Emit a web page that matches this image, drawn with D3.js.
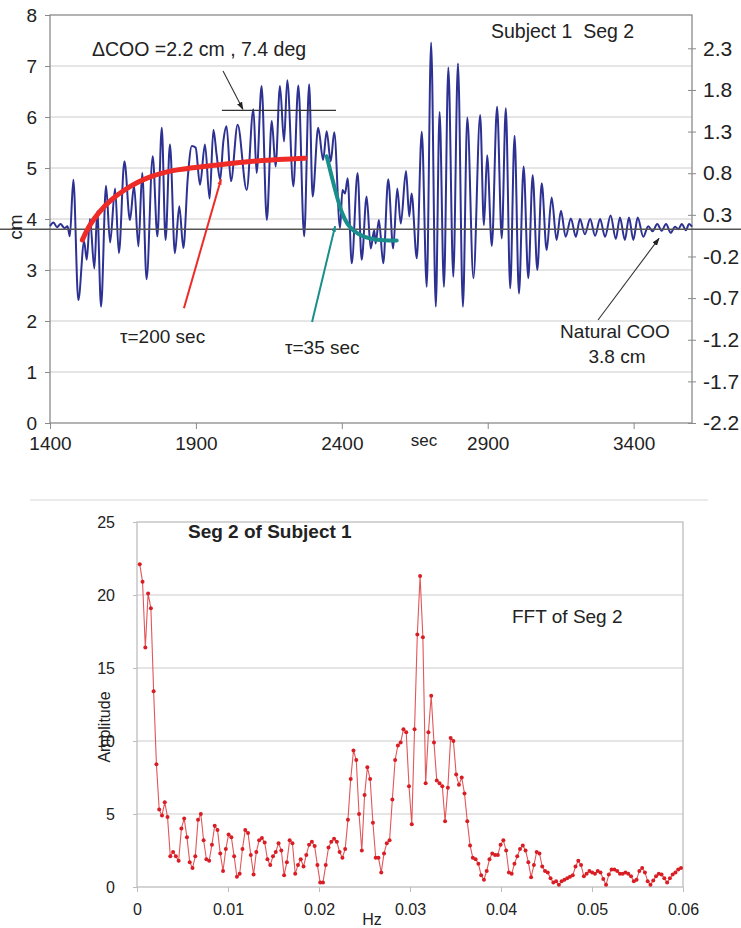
<!DOCTYPE html>
<html><head><meta charset="utf-8">
<script src="https://cdn.jsdelivr.net/npm/d3@7"></script>
<style>body{margin:0;background:#fff}svg{display:block}text{font-family:"Liberation Sans",Arial,sans-serif;fill:#222}</style>
</head><body><svg id="c" width="741" height="928"></svg>
<script>
// ---------- top chart data ----------
const cooTimeSec = [1400,1412,1424,1436,1450,1460,1468,1480,1497,1517,1526,1537,1552,1562,1575,1592,1606,1623,1636,1655,1674,1688,1703,1716,1731,1752,1768,1783,1796,1811,1828,1843,1857,1872,1886,1899,1914,1931,1947,1960,1971,1983,1994,2005,2020,2043,2074,2097,2108,2125,2143,2160,2173,2188,2202,2213,2234,2251,2271,2288,2300,2319,2336,2348,2362,2374,2394,2402,2411,2420,2434,2454,2468,2485,2499,2511,2516,2527,2542,2559,2576,2590,2602,2620,2631,2639,2657,2674,2691,2706,2722,2735,2750,2765,2782,2798,2815,2830,2851,2874,2887,2898,2914,2932,2948,2962,2977,2992,3007,3023,3039,3054,3070,3085,3102,3119,3136,3151,3167,3185,3202,3216,3233,3251,3268,3285,3302,3321,3339,3353,3370,3384,3399,3414,3433,3450,3465,3481,3496,3511,3527,3542,3553,3565,3579,3590,3600];
const cooCm      = [3.86,3.93,3.84,3.9,3.82,3.86,3.66,4.77,2.41,3.56,3.2,4.0,3.03,4.15,2.28,4.65,3.54,4.6,3.33,5.13,3.98,4.65,3.46,4.9,2.82,5.23,3.66,5.79,3.59,5.46,3.33,4.25,3.43,4.8,5.43,5.4,4.67,5.46,4.4,5.75,5.26,4.77,5.52,5.82,4.74,5.85,4.57,6.15,4.9,6.61,3.98,5.92,5.03,6.61,5.52,6.72,4.64,6.62,3.66,6.64,4.44,5.79,5.16,5.72,5.13,5.7,3.82,4.57,4.5,4.8,3.13,4.9,3.2,4.44,3.42,3.78,3.52,3.98,3.13,4.78,3.42,4.6,3.91,4.94,4.05,4.5,3.23,5.71,2.67,7.46,2.28,6.1,2.67,6.97,2.87,7.05,2.28,5.99,2.84,6.04,3.88,5.25,3.47,6.2,3.62,6.17,2.64,5.63,2.54,5.03,2.84,4.86,3.0,4.7,3.39,4.42,3.59,4.16,3.65,4.01,3.65,4.0,3.7,4.0,3.67,4.0,3.65,4.07,3.61,4.03,3.59,4.03,3.59,4.03,3.65,3.86,3.76,3.9,3.77,3.9,3.73,3.85,3.8,3.9,3.78,3.9,3.85];
const riseFitSec = [1511,1531,1566,1611,1657,1703,1748,1794,1840,1897,1960,2045,2160,2274];
const riseFitCm  = [3.59,3.84,4.13,4.39,4.58,4.73,4.84,4.92,4.97,5.01,5.05,5.11,5.16,5.19];
const decayFitSec = [2348,2365,2383,2400,2422,2457,2502,2545,2588];
const decayFitCm  = [5.23,4.84,4.44,4.11,3.85,3.69,3.6,3.58,3.58];
const naturalCooCm = 3.8;
const xTicksTop = [1400,1900,2400,2900,3400];
const yTicksLeft = [0,1,2,3,4,5,6,7,8];
const yTicksRight = [-2.2,-1.7,-1.2,-0.7,-0.2,0.3,0.8,1.3,1.8,2.3];

// ---------- bottom chart data ----------
const fftFreqMilliHz = [0.305,0.61,0.915,1.22,1.525,1.83,2.135,2.44,2.745,3.05,3.355,3.66,3.965,4.27,4.575,4.88,5.185,5.49,5.795,6.1,6.405,6.71,7.015,7.32,7.625,7.93,8.235,8.54,8.845,9.15,9.455,9.76,10.065,10.37,10.675,10.98,11.285,11.59,11.895,12.2,12.505,12.81,13.115,13.42,13.725,14.03,14.335,14.64,14.945,15.25,15.555,15.86,16.165,16.47,16.775,17.08,17.385,17.69,17.995,18.3,18.605,18.91,19.215,19.52,19.825,20.13,20.435,20.74,21.045,21.35,21.655,21.96,22.265,22.57,22.875,23.18,23.485,23.79,24.095,24.4,24.705,25.01,25.315,25.62,25.925,26.23,26.535,26.84,27.145,27.45,27.755,28.06,28.365,28.67,28.975,29.28,29.585,29.89,30.195,30.5,30.805,31.11,31.415,31.72,32.025,32.33,32.635,32.94,33.245,33.55,33.855,34.16,34.465,34.77,35.075,35.38,35.685,35.99,36.295,36.6,36.905,37.21,37.515,37.82,38.125,38.43,38.735,39.04,39.345,39.65,39.955,40.26,40.565,40.87,41.175,41.48,41.785,42.09,42.395,42.7,43.005,43.31,43.615,43.92,44.225,44.53,44.835,45.14,45.445,45.75,46.055,46.36,46.665,46.97,47.275,47.58,47.885,48.19,48.495,48.8,49.105,49.41,49.715,50.02,50.325,50.63,50.935,51.24,51.545,51.85,52.155,52.46,52.765,53.07,53.375,53.68,53.985,54.29,54.595,54.9,55.205,55.51,55.815,56.12,56.425,56.73,57.035,57.34,57.645,57.95,58.255,58.56,58.865,59.17,59.475,59.78];
const fftAmplitude = [22.1,20.9,16.4,20.1,19.1,13.4,8.4,5.3,4.9,5.8,4.8,2.1,2.4,2.1,1.8,4.0,4.7,3.4,1.7,1.3,2.1,4.6,5.0,3.2,1.9,1.8,2.9,4.2,3.9,2.3,1.1,2.6,3.6,3.4,2.1,0.7,0.9,2.6,3.9,3.7,2.2,0.85,2.4,3.2,3.35,3.05,1.9,1.5,2.1,2.4,3.0,2.5,0.8,1.7,3.2,3.0,0.9,1.5,1.9,1.4,2.2,2.9,3.1,2.8,1.5,0.3,0.3,1.5,2.7,3.1,3.3,3.1,2.4,2.0,2.6,4.6,7.4,9.35,8.7,5.0,2.5,6.3,8.2,7.4,4.4,2.0,2.0,1.0,2.3,3.0,3.2,6.0,8.7,9.7,9.9,10.8,10.6,6.9,4.3,10.8,17.3,21.3,17.1,7.1,10.6,13.1,9.9,7.3,7.1,6.9,4.5,6.8,10.2,10.0,7.7,7.0,7.5,6.4,4.5,2.85,2.0,1.9,1.6,0.8,0.5,1.1,1.9,2.3,2.2,2.2,2.9,3.2,2.5,1.0,0.9,1.6,2.1,2.6,2.85,2.5,1.7,0.66,1.5,2.4,2.3,1.4,1.1,1.0,0.6,0.3,0.4,0.15,0.4,0.5,0.6,0.7,0.8,1.4,1.8,1.5,0.73,0.9,1.1,1.0,0.9,1.1,1.0,0.55,0.15,0.85,1.2,1.2,1.1,0.9,0.9,1.0,0.9,0.73,0.4,0.5,1.1,1.3,1.0,0.4,0.15,0.45,0.73,0.9,0.85,0.6,0.3,0.6,0.85,1.0,1.2,1.3];
const xTicksBottom = [0,0.01,0.02,0.03,0.04,0.05,0.06];
const xTickLabelsBottom = ["0","0.01","0.02","0.03","0.04","0.05","0.06"];
const yTicksBottom = [0,5,10,15,20,25];

const svg = d3.select("#c");
const FONT = '"Liberation Sans",Arial,sans-serif';

// ================= TOP CHART =================
const x1 = d3.scaleLinear().domain([1400,3600]).range([50,692]);
const y1 = d3.scaleLinear().domain([0,8]).range([423,15]);
const y1r = d3.scaleLinear().domain([-2.2,2.7]).range([423,15]);
const gTop = svg.append("g");

gTop.selectAll("line.grid").data(yTicksLeft.filter(d=>d>0&&d<8)).join("line")
  .attr("x1",x1(1400)).attr("x2",x1(3600)).attr("y1",d=>y1(d)).attr("y2",d=>y1(d))
  .attr("stroke","#cccccc").attr("stroke-width",1);

gTop.append("rect").attr("x",x1(1400)).attr("y",y1(8)).attr("width",x1(3600)-x1(1400)).attr("height",y1(0)-y1(8))
  .attr("fill","none").attr("stroke","#8a8a8a").attr("stroke-width",1.3);

const axL = gTop.append("g").attr("transform",`translate(${x1(1400)},0)`)
  .call(d3.axisLeft(y1).tickValues(yTicksLeft).tickSize(5).tickPadding(8));
const axB = gTop.append("g").attr("transform",`translate(0,${y1(0)})`)
  .call(d3.axisBottom(x1).tickValues(xTicksTop).tickSize(6).tickFormat(d3.format("d")).tickPadding(8));
const axR = gTop.append("g").attr("transform",`translate(${x1(3600)},0)`)
  .call(d3.axisRight(y1r).tickValues(yTicksRight).tickSize(4).tickPadding(7).tickFormat(d=>d.toFixed(1)));
[axL,axB,axR].forEach(a=>{a.select(".domain").remove();
  a.selectAll("line").attr("stroke","#8a8a8a");
  a.selectAll("text").attr("font-size",19).attr("font-family",FONT).attr("fill","#222");});
axR.selectAll("text").attr("font-size",21);
axR.selectAll(".tick line").attr("x1",-4);

const lineTop = d3.line().x(d=>x1(d[0])).y(d=>y1(d[1])).curve(d3.curveMonotoneX);
gTop.append("path").datum(d3.zip(cooTimeSec,cooCm)).attr("d",lineTop)
  .attr("fill","none").attr("stroke","#2d3192").attr("stroke-width",2);

gTop.append("line").attr("x1",0).attr("x2",741).attr("y1",y1(naturalCooCm)).attr("y2",y1(naturalCooCm))
  .attr("stroke","#555").attr("stroke-width",1.5);

const fitLine = d3.line().x(d=>x1(d[0])).y(d=>y1(d[1])).curve(d3.curveBasis);
gTop.append("path").datum(d3.zip(riseFitSec,riseFitCm)).attr("d",fitLine)
  .attr("fill","none").attr("stroke","#ee2b26").attr("stroke-width",5).attr("stroke-linecap","round");
gTop.append("path").datum(d3.zip(decayFitSec,decayFitCm)).attr("d",fitLine)
  .attr("fill","none").attr("stroke","#1a8e8a").attr("stroke-width",4).attr("stroke-linecap","round");

const defs = svg.append("defs");
function mk(id,color,s){defs.append("marker").attr("id",id).attr("viewBox","0 0 10 10").attr("refX",9).attr("refY",5)
  .attr("markerUnits","userSpaceOnUse").attr("markerWidth",s).attr("markerHeight",s).attr("orient","auto")
  .append("path").attr("d","M0,1.5 L10,5 L0,8.5 z").attr("fill",color);}
mk("ak","#222",8); mk("ar","#ee2b26",6); mk("at","#1a8e8a",6);

function seg(g,t0,v0,t1,v1,color,w,marker){
  return g.append("line").attr("x1",x1(t0)).attr("y1",y1(v0)).attr("x2",x1(t1)).attr("y2",y1(v1))
    .attr("stroke",color).attr("stroke-width",w).attr("marker-end",marker?`url(#${marker})`:null);}
seg(gTop,1989,6.13,2380,6.13,"#333",1.3);
seg(gTop,1993,6.9,2061,6.15,"#333",1.1,"ak");
seg(gTop,1859,2.25,1986,4.78,"#ee2b26",2,"ar");
seg(gTop,2298,1.98,2377,3.86,"#1a8e8a",2,"at");
seg(gTop,3278,2.02,3487,3.62,"#333",1.1,"ak");

function txt(x,y,s,size,opts={}){const t=svg.append("text").attr("x",x).attr("y",y).text(s)
  .attr("font-size",size).attr("font-family",FONT).attr("fill","#222").style("white-space","pre");
  if(opts.anchor)t.attr("text-anchor",opts.anchor); if(opts.bold)t.attr("font-weight","bold");
  if(opts.rot)t.attr("transform",`rotate(-90,${x},${y})`); return t;}
txt(92,56,"\u0394COO =2.2 cm , 7.4 deg",19.5);
txt(491,38,"Subject 1\u00a0 Seg 2",19.5);
txt(120,343,"\u03c4=200 sec",19);
txt(285,354,"\u03c4=35 sec",19);
txt(615,338,"Natural COO",19,{anchor:"middle"});
txt(617,363,"3.8 cm",19,{anchor:"middle"});
txt(22,227,"cm",19,{anchor:"middle",rot:true});
txt(424,446,"sec",17,{anchor:"middle"});

svg.append("line").attr("x1",30).attr("x2",708).attr("y1",500).attr("y2",500).attr("stroke","#e4e4e4").attr("stroke-width",1.5);

// ================= BOTTOM CHART =================
const x2 = d3.scaleLinear().domain([0,0.06]).range([137,683]);
const y2 = d3.scaleLinear().domain([0,25]).range([887,522]);
const gBot = svg.append("g");
gBot.selectAll("line.grid").data(yTicksBottom.filter(d=>d>0&&d<25)).join("line")
  .attr("x1",x2(0)).attr("x2",x2(0.06)).attr("y1",d=>y2(d)).attr("y2",d=>y2(d))
  .attr("stroke","#dcdcdc").attr("stroke-width",1.3);
gBot.append("rect").attr("x",x2(0)).attr("y",y2(25)).attr("width",x2(0.06)-x2(0)).attr("height",y2(0)-y2(25))
  .attr("fill","none").attr("stroke","#bdbdbd").attr("stroke-width",1.3);
const bL = gBot.append("g").attr("transform",`translate(${x2(0)},0)`)
  .call(d3.axisLeft(y2).tickValues(yTicksBottom).tickSize(4).tickPadding(18));
const bB = gBot.append("g").attr("transform",`translate(0,${y2(0)})`)
  .call(d3.axisBottom(x2).tickValues(xTicksBottom).tickSize(5).tickPadding(12).tickFormat((d,i)=>xTickLabelsBottom[i]));
[bL,bB].forEach(a=>{a.select(".domain").remove();
  a.selectAll("line").attr("stroke","#bdbdbd");
  a.selectAll("text").attr("font-size",16).attr("font-family",FONT).attr("fill","#222");});

const fftPts = d3.zip(fftFreqMilliHz.map(d=>d/1000),fftAmplitude);
gBot.append("path").datum(fftPts).attr("d",d3.line().x(d=>x2(d[0])).y(d=>y2(d[1])))
  .attr("fill","none").attr("stroke","#e2575a").attr("stroke-width",1.1);
gBot.selectAll("circle").data(fftPts).join("circle")
  .attr("cx",d=>x2(d[0])).attr("cy",d=>y2(d[1])).attr("r",2).attr("fill","#d81e24");

txt(188,538,"Seg 2 of Subject 1",19,{bold:true});
txt(512,623,"FFT of Seg 2",19);
txt(110,727,"Amplitude",16,{anchor:"middle",rot:true});
txt(372,925,"Hz",16,{anchor:"middle"});
</script></body></html>
